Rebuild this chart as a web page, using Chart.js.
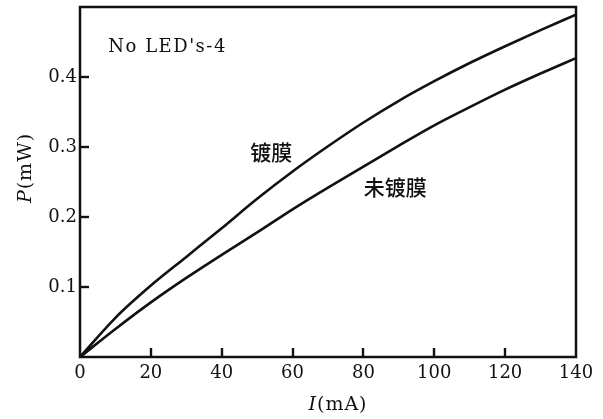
<!DOCTYPE html>
<html>
<head>
<meta charset="utf-8">
<script src="https://cdn.jsdelivr.net/npm/chart.js@4"></script>
<style>
  html, body { margin: 0; padding: 0; background: #fff; }
  #wrap { width: 603px; height: 419px; }
</style>
</head>
<body>
<div id="wrap"><canvas id="chart" width="603" height="419"></canvas></div>
<script>
// current values along the x axis (mA)
const currents = [0, 10, 20, 30, 40, 50, 60, 70, 80, 90, 100, 110, 120, 130, 140];
// coated LED (镀膜) output power, mW
const coatedPower = [0, 0.056, 0.102, 0.143, 0.184, 0.226, 0.265, 0.301, 0.335, 0.366, 0.394, 0.420, 0.444, 0.467, 0.489];
// uncoated LED (未镀膜) output power, mW
const uncoatedPower = [0, 0.040, 0.078, 0.113, 0.146, 0.178, 0.211, 0.242, 0.272, 0.302, 0.331, 0.357, 0.382, 0.405, 0.427];
// tick values
const xTicks = [0, 20, 40, 60, 80, 100, 120, 140];
const yTicks = [0.1, 0.2, 0.3, 0.4];
// text labels placed in data coordinates
const notes = [
  { text: "No LED's-4", x: 8, y: 0.443, font: '18px "DejaVu Serif"', align: 'left', spacing: '1.5px' },
  { text: '镀膜', x: 54, y: 0.293, font: '500 21px "Noto Sans CJK SC"', align: 'center', spacing: '0px' },
  { text: '未镀膜', x: 89, y: 0.243, font: '500 21px "Noto Sans CJK SC"', align: 'center', spacing: '0px' }
];

const ink = '#111';
const titleFont = '"DejaVu Serif"';

// draw a title made of an italic symbol and an upright unit
function drawTitle(ctx, symbol, unit, size) {
  ctx.font = 'italic ' + size + 'px ' + titleFont;
  const w1 = ctx.measureText(symbol).width;
  ctx.font = size + 'px ' + titleFont;
  const w2 = ctx.measureText(unit).width;
  const start = -(w1 + w2) / 2;
  ctx.textAlign = 'left';
  ctx.textBaseline = 'middle';
  ctx.font = 'italic ' + size + 'px ' + titleFont;
  ctx.fillText(symbol, start, 0);
  ctx.font = size + 'px ' + titleFont;
  ctx.fillText(unit, start + w1, 0);
}

// frame, inward tick marks, notes and axis titles, placed through the chart's own scales
const framePlugin = {
  id: 'frame',
  afterDraw(chart) {
    const ctx = chart.ctx;
    const a = chart.chartArea;
    const xs = chart.scales.x;
    const ys = chart.scales.y;
    ctx.save();
    ctx.strokeStyle = ink;
    ctx.lineWidth = 2.5;
    ctx.strokeRect(a.left, a.top, a.right - a.left, a.bottom - a.top);

    // inward tick marks
    ctx.lineWidth = 2.4;
    xTicks.slice(1, -1).forEach(v => {
      const px = Math.round(xs.getPixelForValue(v));
      ctx.beginPath();
      ctx.moveTo(px, a.bottom);
      ctx.lineTo(px, a.bottom - 9);
      ctx.stroke();
    });
    yTicks.forEach(v => {
      const py = Math.round(ys.getPixelForValue(v));
      ctx.beginPath();
      ctx.moveTo(a.left, py);
      ctx.lineTo(a.left + 9, py);
      ctx.stroke();
    });

    ctx.fillStyle = ink;
    ctx.textBaseline = 'middle';
    notes.forEach(n => {
      ctx.font = n.font;
      ctx.letterSpacing = n.spacing;
      ctx.textAlign = n.align;
      ctx.fillText(n.text, xs.getPixelForValue(n.x), ys.getPixelForValue(n.y));
    });
    ctx.letterSpacing = '1px';

    // x title below the tick labels
    ctx.save();
    ctx.translate((a.left + a.right) / 2 + 10, 405);
    drawTitle(ctx, 'I', '(mA)', 19);
    ctx.restore();

    // y title rotated, left of the tick labels
    ctx.save();
    ctx.translate(26, ys.getPixelForValue(0.27));
    ctx.rotate(-Math.PI / 2);
    drawTitle(ctx, 'P', '(mW)', 19);
    ctx.restore();

    ctx.restore();
  }
};

function line(label, data) {
  return {
    label: label,
    data: currents.map((c, i) => ({ x: c, y: data[i] })),
    borderColor: ink,
    borderWidth: 2.6,
    pointRadius: 0,
    fill: false,
    tension: 0.4,
    cubicInterpolationMode: 'monotone'
  };
}

new Chart(document.getElementById('chart').getContext('2d'), {
  type: 'line',
  data: {
    datasets: [line('镀膜', coatedPower), line('未镀膜', uncoatedPower)]
  },
  options: {
    responsive: false,
    animation: false,
    layout: { padding: { left: 8, right: 27, top: 7, bottom: 6 } },
    plugins: { legend: { display: false }, tooltip: { enabled: false } },
    scales: {
      x: {
        type: 'linear',
        min: 0,
        max: 140,
        afterFit(scale) { scale.height = 56; },
        grid: { display: false, drawTicks: false },
        border: { display: false },
        ticks: {
          stepSize: 20,
          color: ink,
          padding: 6,
          font: { family: 'DejaVu Serif', size: 18 }
        }
      },
      y: {
        type: 'linear',
        min: 0,
        max: 0.5,
        afterFit(scale) {
          scale.width = 72;
          scale.paddingTop = 0;
          scale.paddingBottom = 0;
        },
        grid: { display: false, drawTicks: false },
        border: { display: false },
        ticks: {
          stepSize: 0.1,
          color: ink,
          padding: 3,
          font: { family: 'DejaVu Serif', size: 18 },
          callback: v => (yTicks.some(t => Math.abs(t - v) < 1e-6) ? v.toFixed(1) : '')
        }
      }
    }
  },
  plugins: [framePlugin]
});
</script>
</body>
</html>
